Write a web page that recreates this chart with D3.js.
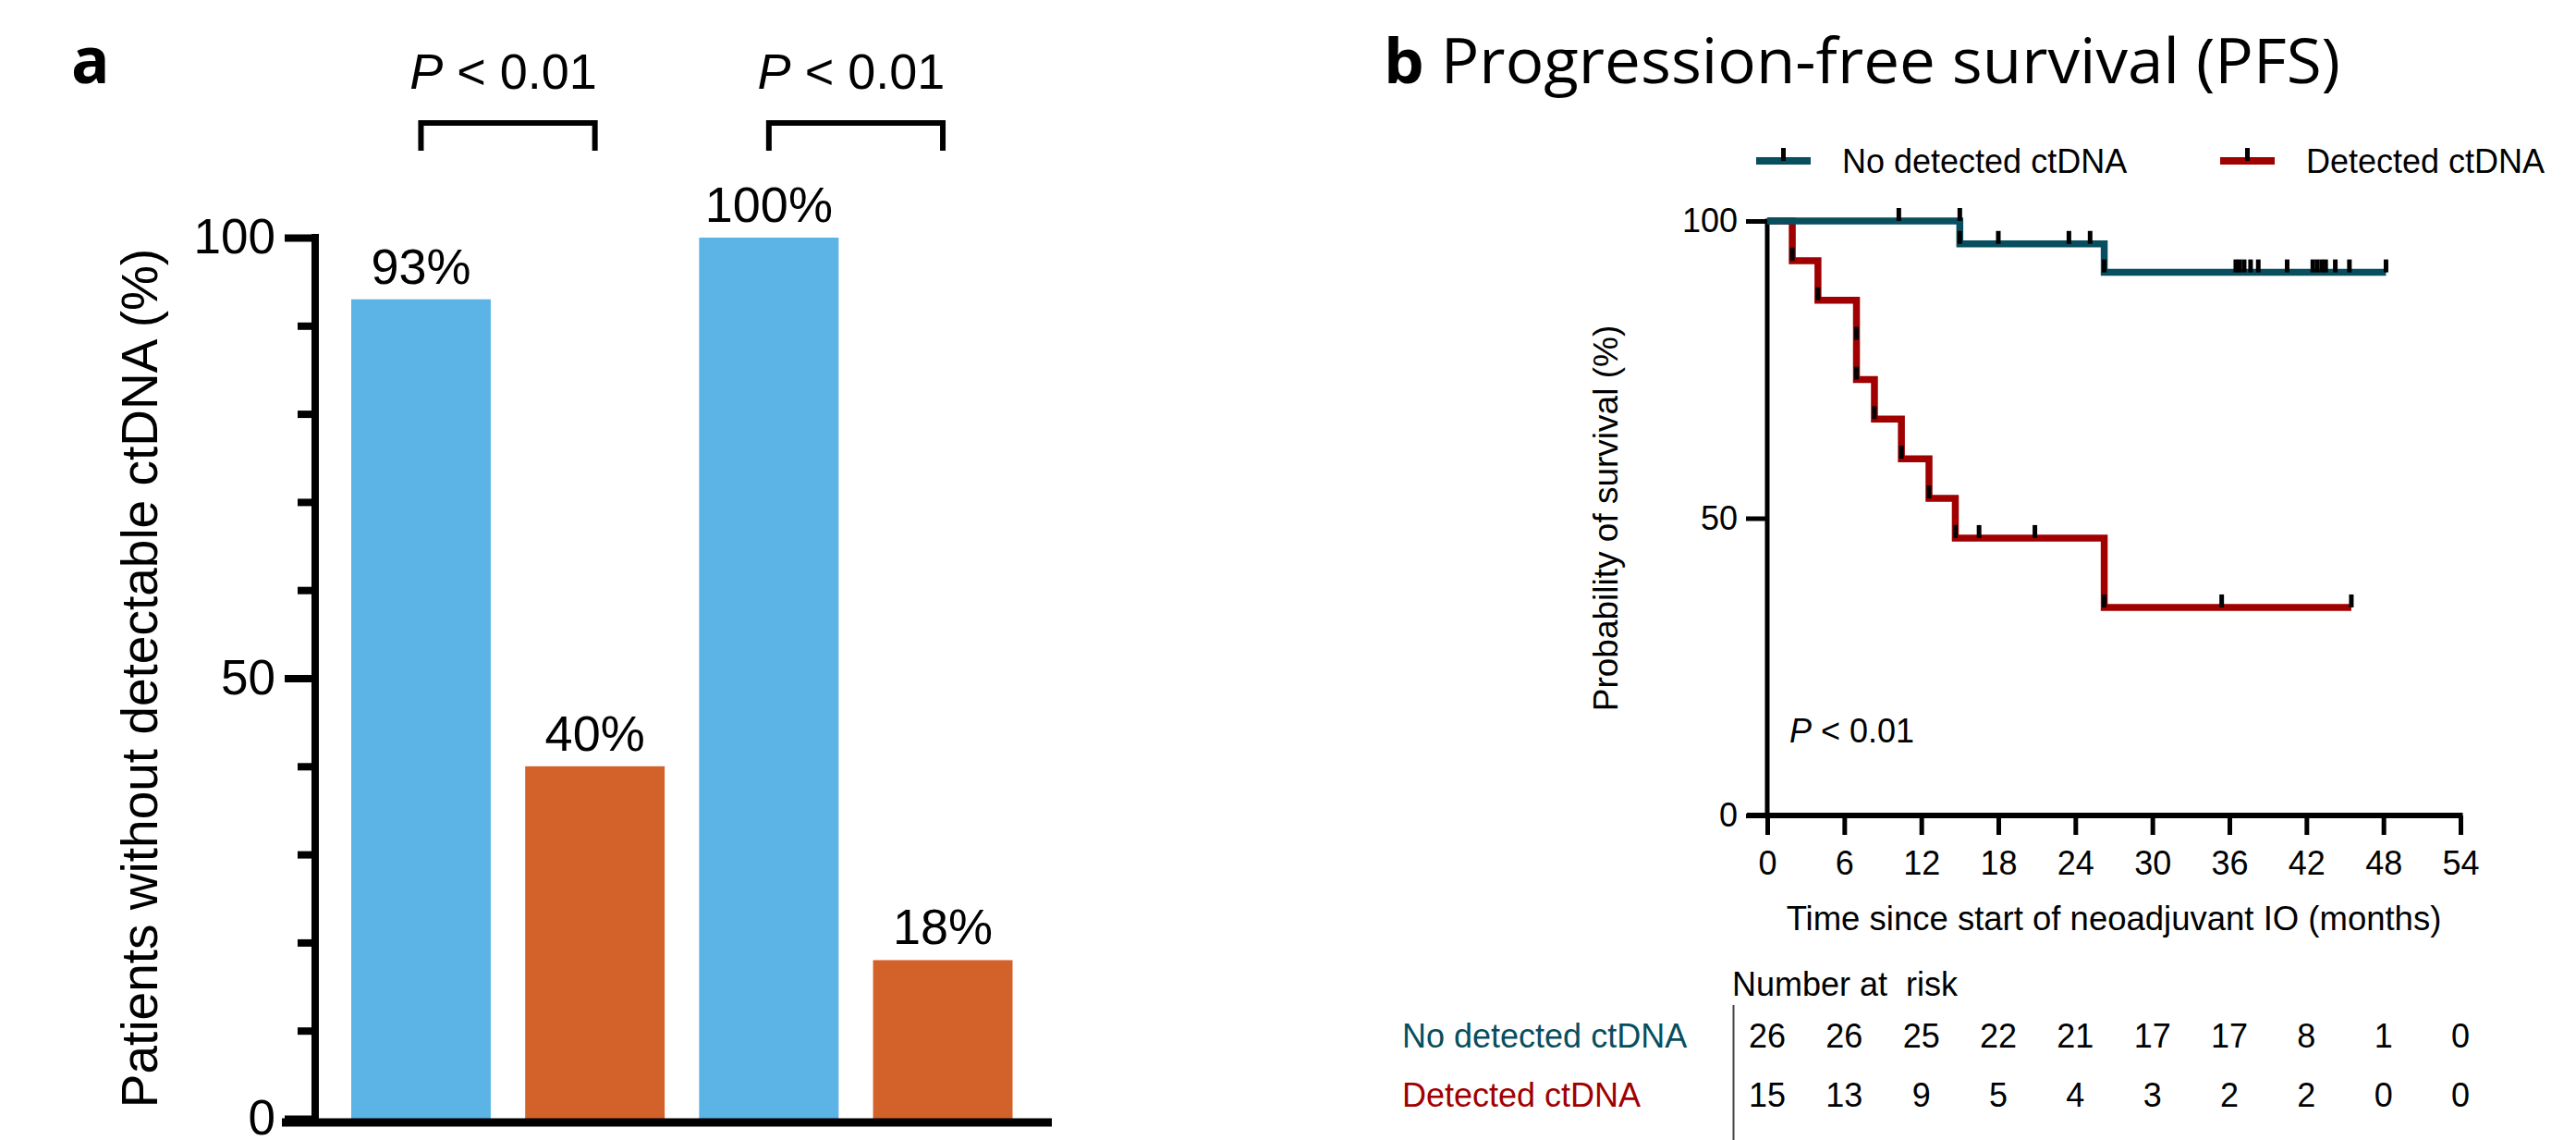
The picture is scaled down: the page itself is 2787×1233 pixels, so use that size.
<!doctype html>
<html lang="en">
<head>
<meta charset="UTF-8">
<title>ctDNA figure</title>
<style>
  body { margin: 0; background: #fff; }
  svg { display: block; }
  text { font-family: "Liberation Sans", Arial, sans-serif; }
</style>
</head>
<body>
<div class="container"></div>

<script src="https://d3js.org/d3.v7.min.js"></script>
<script>
  // ---- panel a data ----
  const barCategories = ['set1-none', 'set1-detected', 'set2-none', 'set2-detected'];
  const barValues = [93, 40, 100, 18];
  const barLabels = ['93%', '40%', '100%', '18%'];
  const barPLabels = ['< 0.01', '< 0.01'];
  const barMajorTicks = [0, 50, 100];
  const barMinorTicks = [10, 20, 30, 40, 60, 70, 80, 90];

  // ---- panel b data (Kaplan-Meier) ----
  const kmSeries = ['No detected ctDNA', 'Detected ctDNA'];
  const noDetTime = [0, 15.0, 26.25, 48.2];
  const noDetSurv = [100, 96.15, 91.35, 91.35];
  const detTime = [0, 1.95, 3.95, 6.95, 6.95, 8.35, 10.45, 12.6, 14.65, 26.25, 45.5];
  const detSurv = [100, 93.33, 86.67, 80, 73.33, 66.67, 60, 53.33, 46.67, 35, 35];
  const noDetTickTime = [10.25, 15.0, 15.0, 18.0, 23.5, 25.15, 26.25, 36.5, 36.8, 37.15, 37.65, 38.25,
    40.5, 42.5, 42.85, 43.2, 43.5, 44.25, 45.35, 48.2];
  const noDetTickSurv = [100, 100, 96.15, 96.15, 96.15, 96.15, 91.35, 91.35, 91.35, 91.35, 91.35, 91.35,
    91.35, 91.35, 91.35, 91.35, 91.35, 91.35, 91.35, 91.35];
  const detTickTime = [1.95, 3.95, 6.95, 6.95, 8.35, 10.45, 12.6, 14.65, 16.5, 20.85, 26.25, 35.4, 45.5];
  const detTickSurv = [93.33, 86.67, 80, 73.33, 66.67, 60, 53.33, 46.67, 46.67, 46.67, 35, 35, 35];
  const kmXTicks = [0, 6, 12, 18, 24, 30, 36, 42, 48, 54];
  const kmYTicks = [0, 50, 100];
  const riskNoDet = [26, 26, 25, 22, 21, 17, 17, 8, 1, 0];
  const riskDet = [15, 13, 9, 5, 4, 3, 2, 2, 0, 0];

  const W = 2787, H = 1233;
  const BLUE = '#5bb3e6', ORANGE = '#d3612a';
  const TEAL = '#074e5f', RED = '#a00000';

  const svg = d3.select('.container')
    .append('svg')
    .attr('width', W)
    .attr('height', H);

  // ================= panel a =================
  const yA = d3.scaleLinear().domain([0, 100]).range([1210, 257]);
  const xA = d3.scaleBand()
    .domain(barCategories)
    .range([380, 1095.5])
    .paddingInner(0.198)
    .paddingOuter(0);

  svg.append('text')
    .attr('x', 77).attr('y', 90)
    .style('font-family', '"Open Sans", sans-serif')
    .style('font-weight', 'bold')
    .style('font-size', '69px')
    .text('a');

  const gA = svg.append('g');

  gA.selectAll('rect.bar')
    .data(barValues)
    .enter().append('rect')
    .attr('class', 'bar')
    .attr('x', (d, i) => xA(barCategories[i]))
    .attr('y', d => yA(d))
    .attr('width', xA.bandwidth())
    .attr('height', d => yA(0) - yA(d))
    .attr('fill', (d, i) => i % 2 === 0 ? BLUE : ORANGE);

  gA.selectAll('text.val')
    .data(barValues)
    .enter().append('text')
    .attr('class', 'val')
    .attr('x', (d, i) => xA(barCategories[i]) + xA.bandwidth() / 2)
    .attr('y', d => yA(d) - 17)
    .attr('text-anchor', 'middle')
    .style('font-size', '54px')
    .text((d, i) => barLabels[i]);

  // y axis: major + minor ticks
  const majorAxis = d3.axisLeft(yA).tickValues(barMajorTicks).tickSize(33).tickPadding(10).tickSizeOuter(0);
  const minorAxis = d3.axisLeft(yA).tickValues(barMinorTicks).tickSize(19).tickFormat('').tickSizeOuter(0);
  const yAxA = gA.append('g').attr('transform', 'translate(341,0)').call(majorAxis);
  const yAxA2 = gA.append('g').attr('transform', 'translate(341,0)').call(minorAxis);
  [yAxA, yAxA2].forEach(g => {
    g.select('.domain').remove();
    g.selectAll('line').attr('stroke', '#000').attr('stroke-width', 8);
  });
  yAxA.selectAll('text').style('font-size', '53px').attr('fill', '#000')
    .style('font-family', '"Liberation Sans", Arial, sans-serif');

  gA.append('line')
    .attr('x1', 341).attr('x2', 341)
    .attr('y1', yA(100) - 4).attr('y2', yA(0) + 8)
    .attr('stroke', '#000').attr('stroke-width', 8);
  gA.append('line')
    .attr('x1', 305).attr('x2', 1138)
    .attr('y1', yA(0) + 4).attr('y2', yA(0) + 4)
    .attr('stroke', '#000').attr('stroke-width', 9);

  gA.append('text')
    .attr('transform', `translate(170, ${(yA(0) + yA(100)) / 2}) rotate(-90)`)
    .attr('text-anchor', 'middle')
    .style('font-size', '55px')
    .text('Patients without detectable ctDNA (%)');

  // significance brackets
  barPLabels.forEach((p, k) => {
    const c1 = xA(barCategories[2 * k]) + xA.bandwidth() / 2;
    const c2 = xA(barCategories[2 * k + 1]) + xA.bandwidth() / 2;
    gA.append('path')
      .attr('d', `M${c1},163 V133 H${c2} V163`)
      .attr('fill', 'none').attr('stroke', '#000').attr('stroke-width', 6);
    const t = gA.append('text')
      .attr('x', (c1 + c2) / 2 - 5).attr('y', 96)
      .attr('text-anchor', 'middle')
      .style('font-size', '54px');
    t.append('tspan').style('font-style', 'italic').text('P');
    t.append('tspan').text(' ' + p);
  });

  // ================= panel b =================
  const xB = d3.scaleLinear().domain([0, 54]).range([1912, 2662]);
  const yB = d3.scaleLinear().domain([0, 100]).range([882, 239]);

  const title = svg.append('text')
    .attr('x', 1497).attr('y', 90)
    .attr('textLength', 1035)
    .attr('lengthAdjust', 'spacingAndGlyphs')
    .style('font-family', '"Open Sans", sans-serif')
    .style('font-size', '67px');
  title.append('tspan').style('font-weight', 'bold').text('b');
  title.append('tspan').text(' Progression-free survival (PFS)');

  const gB = svg.append('g');

  // legend
  const legendX = [1900, 2402];
  kmSeries.forEach((name, i) => {
    const col = i === 0 ? TEAL : RED;
    gB.append('line')
      .attr('x1', legendX[i]).attr('x2', legendX[i] + 59)
      .attr('y1', 174).attr('y2', 174)
      .attr('stroke', col).attr('stroke-width', 8);
    gB.append('line')
      .attr('x1', legendX[i] + 29.5).attr('x2', legendX[i] + 29.5)
      .attr('y1', 174).attr('y2', 160)
      .attr('stroke', '#000').attr('stroke-width', 5);
    gB.append('text')
      .attr('x', legendX[i] + 93).attr('y', 187)
      .style('font-size', '36px')
      .text(name);
  });

  // axes
  const xAxB = gB.append('g')
    .attr('transform', `translate(0, ${yB(0)})`)
    .call(d3.axisBottom(xB).tickValues(kmXTicks).tickSize(21).tickPadding(17).tickSizeOuter(0));
  const yAxB = gB.append('g')
    .attr('transform', `translate(${xB(0)}, 0)`)
    .call(d3.axisLeft(yB).tickValues(kmYTicks).tickSize(23).tickPadding(9).tickSizeOuter(0));
  [xAxB, yAxB].forEach(g => {
    g.select('.domain').remove();
    g.selectAll('line').attr('stroke', '#000').attr('stroke-width', 5);
    g.selectAll('text').style('font-size', '36px').attr('fill', '#000')
      .style('font-family', '"Liberation Sans", Arial, sans-serif');
  });
  gB.append('line')
    .attr('x1', xB(0)).attr('x2', xB(0))
    .attr('y1', yB(100) - 2.5).attr('y2', yB(0))
    .attr('stroke', '#000').attr('stroke-width', 5);
  gB.append('line')
    .attr('x1', 1890).attr('x2', xB(54) + 2.5)
    .attr('y1', yB(0)).attr('y2', yB(0))
    .attr('stroke', '#000').attr('stroke-width', 6);

  gB.append('text')
    .attr('transform', `translate(1750, ${(yB(0) + yB(100)) / 2}) rotate(-90)`)
    .attr('text-anchor', 'middle')
    .style('font-size', '37px')
    .text('Probability of survival (%)');

  gB.append('text')
    .attr('x', (xB(0) + xB(54)) / 2).attr('y', 1006)
    .attr('text-anchor', 'middle')
    .style('font-size', '36.5px')
    .text('Time since start of neoadjuvant IO (months)');

  // survival curves
  const step = d3.line()
    .x(d => xB(d[0]))
    .y(d => yB(d[1]))
    .curve(d3.curveStepAfter);

  const curves = [
    { time: detTime, surv: detSurv, color: RED },
    { time: noDetTime, surv: noDetSurv, color: TEAL }
  ];
  curves.forEach(c => {
    gB.append('path')
      .datum(c.time.map((t, i) => [t, c.surv[i]]))
      .attr('d', step)
      .attr('fill', 'none')
      .attr('stroke', c.color)
      .attr('stroke-width', 7.5)
      .attr('stroke-linejoin', 'miter');
  });

  const ticks = [
    { time: detTickTime, surv: detTickSurv },
    { time: noDetTickTime, surv: noDetTickSurv }
  ];
  ticks.forEach(tk => {
    gB.selectAll(null)
      .data(tk.time.map((t, i) => [t, tk.surv[i]]))
      .enter().append('line')
      .attr('x1', d => xB(d[0])).attr('x2', d => xB(d[0]))
      .attr('y1', d => yB(d[1])).attr('y2', d => yB(d[1]) - 14)
      .attr('stroke', '#000').attr('stroke-width', 5);
  });

  const pt = gB.append('text')
    .attr('x', 1936).attr('y', 803)
    .style('font-size', '36px');
  pt.append('tspan').style('font-style', 'italic').text('P');
  pt.append('tspan').text(' < 0.01');

  // number at risk table
  gB.append('text')
    .attr('x', 1874).attr('y', 1077)
    .style('font-size', '36px')
    .style('white-space', 'pre')
    .text('Number at  risk');
  gB.append('line')
    .attr('x1', 1875.5).attr('x2', 1875.5)
    .attr('y1', 1087).attr('y2', H)
    .attr('stroke', '#444').attr('stroke-width', 2);

  const riskRows = [riskNoDet, riskDet];
  const rowY = [1133, 1197];
  riskRows.forEach((row, r) => {
    gB.append('text')
      .attr('x', 1517).attr('y', rowY[r])
      .attr('fill', r === 0 ? TEAL : RED)
      .style('font-size', '36px')
      .text(kmSeries[r]);
    gB.selectAll(null)
      .data(row)
      .enter().append('text')
      .attr('x', (d, i) => xB(kmXTicks[i]))
      .attr('y', rowY[r])
      .attr('text-anchor', 'middle')
      .style('font-size', '36px')
      .text(d => d);
  });
</script>
</body>
</html>
